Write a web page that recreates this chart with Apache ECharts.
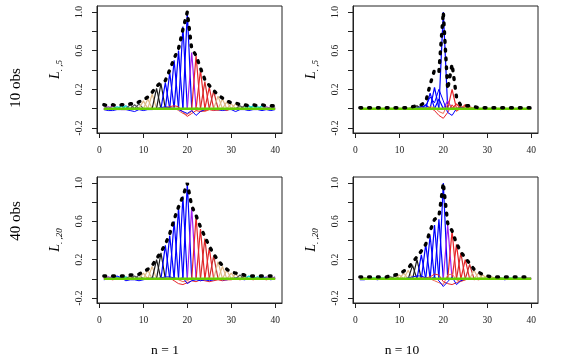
<!DOCTYPE html>
<html>
<head>
<meta charset="utf-8">
<script src="https://cdn.jsdelivr.net/npm/echarts@6/dist/echarts.min.js"></script>
<style>
html, body { margin: 0; padding: 0; background: #fff; }
#chart { width: 572px; height: 364px; }
</style>
</head>
<body>
<div id="chart"></div>
<script>
// tick values
var xTicks = [0, 10, 20, 30, 40];
var yTicks = [-0.2, 0, 0.2, 0.4, 0.6, 0.8, 1.0];
var yTickLabels = [-0.2, 0.2, 0.6, 1.0];
var rowNames = ["10 obs", "40 obs"];
var colNames = ["n = 1", "n = 10"];
var ySubs = ["5", "5", "20", "20"];

// panel 1 : 10 obs, n = 1
var p1Env = [0.04,0.03,0.04,0.03,0.04,0.04,0.05,0.05,0.07,0.09,
  0.12,0.17,0.23,0.27,0.29,0.40,0.52,0.62,0.82,1.00,
  0.62,0.55,0.42,0.30,0.24,0.19,0.14,0.11,0.08,0.06,
  0.06,0.04,0.04,0.03,0.04,0.03,0.04,0.03,0.03,0.03];
var p1Peak = [0.03,0.02,0.03,0.02,0.03,0.03,0.04,0.04,0.05,0.08,
  0.10,0.15,0.21,0.26,0.27,0.37,0.50,0.60,0.85,1.00,
  0.58,0.55,0.40,0.28,0.22,0.18,0.13,0.10,0.07,0.05,
  0.05,0.03,0.03,0.03,0.03,0.02,0.03,0.02,0.02,0.02];
var p1Blue = [-0.01,-0.02,-0.02,-0.01,-0.01,-0.01,-0.02,-0.03,-0.01,-0.02,
  -0.01,-0.01,0.00,0.01,0.02,0.01,0.00,-0.01,-0.03,-0.05,
  -0.02,-0.07,-0.03,-0.01,0.00,-0.01,-0.01,-0.02,-0.01,-0.01,
  -0.03,-0.01,-0.01,-0.02,-0.01,-0.01,-0.02,-0.01,-0.02,-0.01];
var p1Red = [0.00,0.00,0.00,-0.01,0.00,0.00,-0.01,0.00,0.00,-0.01,
  0.00,0.00,0.00,0.00,0.01,0.02,0.03,0.02,-0.04,-0.08,
  -0.05,-0.02,-0.03,-0.02,-0.01,-0.02,-0.01,-0.01,-0.02,0.00,
  -0.01,0.00,0.00,-0.01,0.00,0.00,0.00,-0.01,0.00,0.00];
var p1Rose = [-0.01,-0.01,0.00,0.00,-0.01,-0.01,0.00,0.00,-0.01,0.00,
  0.00,-0.01,0.00,0.01,0.00,0.00,0.01,-0.02,-0.05,-0.06,
  -0.03,0.02,-0.02,-0.03,-0.01,-0.01,-0.02,-0.01,0.00,-0.01,
  0.00,-0.01,0.00,0.00,-0.01,0.00,-0.01,0.00,-0.01,0.00];

// panel 2 : 10 obs, n = 10
var p2Env = [0.01,0.01,0.01,0.01,0.01,0.01,0.01,0.01,0.01,0.01,
  0.01,0.01,0.02,0.03,0.04,0.07,0.25,0.40,0.38,1.00,
  0.20,0.46,0.12,0.03,0.03,0.03,0.02,0.01,0.01,0.01,
  0.01,0.01,0.01,0.01,0.01,0.01,0.01,0.01,0.01,0.01];
var p2Peak = [0,0,0,0,0,0,0,0,0,0,
  0,0,0.01,0.03,0.02,0.04,0.16,0.22,0.10,1.00,
  0.08,0.20,0.05,0.02,0.04,0.02,0.01,0,0,0,
  0,0,0,0,0,0,0,0,0,0];
var p2Blue = [0,0,0,0,0,0,-0.01,0,0,0,
  0,0,0,0.01,0.02,0.03,0.12,0.06,0.20,0.08,
  -0.04,-0.07,0.00,0.01,0,0,0,0,0,0,
  0,0,-0.01,0,0,0,0,0,0,0];
var p2Red = [0,0,0,0,0,0,0,0,0,0,
  0,0,0,0,0,0,0.01,-0.02,-0.07,-0.10,
  -0.04,0.04,-0.02,0.00,0.02,0,0,0,0,0,
  0,0,0,0,0,0,0,0,0,0];
var p2Rose = [0,0,0,0,0,0,0,0,0,0,
  0,0,0,0,0.01,0.00,0.02,0.01,-0.03,-0.05,
  0.05,0.02,-0.03,0.01,0.03,0.01,0,0,0,0,
  0,0,0,0,0,0,0,0,0,0];

// panel 3 : 40 obs, n = 1
var p3Env = [0.03,0.03,0.03,0.03,0.03,0.03,0.04,0.04,0.05,0.07,
  0.10,0.14,0.21,0.28,0.36,0.47,0.62,0.75,0.86,1.00,
  0.76,0.66,0.54,0.44,0.34,0.26,0.19,0.14,0.10,0.07,
  0.06,0.05,0.04,0.03,0.03,0.03,0.03,0.03,0.03,0.03];
var p3Peak = [0.02,0.02,0.03,0.02,0.02,0.02,0.03,0.03,0.04,0.06,
  0.09,0.13,0.20,0.27,0.35,0.45,0.60,0.74,0.86,1.00,
  0.74,0.65,0.52,0.42,0.32,0.24,0.18,0.13,0.09,0.06,
  0.05,0.04,0.03,0.03,0.02,0.02,0.03,0.02,0.02,0.02];
var p3Blue = [-0.01,0.00,0.01,0.03,0.01,-0.02,-0.01,-0.01,-0.02,-0.01,
  0.00,0.01,0.00,0.01,0.02,0.02,0.01,0.00,0.01,-0.05,
  -0.02,-0.01,-0.02,-0.01,-0.02,-0.01,0.00,-0.01,-0.01,0.00,
  0.01,0.00,-0.01,0.00,0.01,0.00,0.02,0.01,-0.01,0.00];
var p3Red = [0.00,0.00,-0.01,0.00,0.00,-0.01,0.00,0.00,-0.01,0.00,
  0.00,0.00,0.00,0.01,0.00,0.01,-0.02,-0.05,-0.06,-0.04,
  -0.02,-0.03,-0.01,-0.02,-0.03,-0.02,-0.01,-0.02,-0.01,-0.01,
  0.00,-0.01,0.00,0.00,-0.01,0.00,0.00,-0.01,0.00,0.00];
var p3Rose = [0.01,0.00,0.00,0.01,0.00,0.00,0.01,0.00,0.00,0.00,
  0.01,0.00,0.00,0.00,0.01,0.00,0.00,-0.01,-0.03,-0.02,
  0.01,0.00,-0.02,0.00,0.01,-0.01,0.00,0.00,-0.01,0.00,
  0.00,0.00,0.01,0.00,0.00,0.01,0.00,0.00,0.00,0.00];

// panel 4 : 40 obs, n = 10
var p4Env = [0.02,0.02,0.02,0.02,0.02,0.02,0.02,0.03,0.04,0.05,
  0.08,0.11,0.17,0.23,0.29,0.36,0.50,0.62,0.65,1.00,
  0.58,0.50,0.37,0.28,0.22,0.16,0.10,0.07,0.045,0.03,
  0.02,0.02,0.02,0.02,0.02,0.02,0.02,0.02,0.02,0.02];
var p4Peak = [0.01,0.01,0.01,0.01,0.01,0.01,0.01,0.02,0.03,0.04,
  0.06,0.09,0.14,0.20,0.25,0.36,0.45,0.56,0.62,1.00,
  0.56,0.50,0.36,0.27,0.20,0.15,0.09,0.06,0.04,0.03,
  0.02,0.01,0.01,0.01,0.01,0.01,0.01,0.01,0.01,0.01];
var p4Blue = [-0.01,-0.01,0,0,-0.01,0,0,0,0,0,
  0,0.01,0.02,0.03,0.03,0.01,0.00,0.02,-0.02,-0.08,
  -0.03,0.02,-0.06,-0.02,0,0,0,0,0,0,
  0,0,0,-0.01,0,0,0,0,0,0];
var p4Red = [0,0,0,0,0,0,0,0,0,0,
  0,0,0,0,0.01,0.01,0.02,0.05,0.04,-0.03,
  -0.05,-0.06,-0.04,-0.02,-0.01,0,0,-0.01,0,0,
  0,0,0,0,0,0,0,0,0,0];
var p4Rose = [0,0,0,0,0,0,0,0,0,0,
  0,0,0,0,0,0.01,0.00,-0.02,-0.04,-0.06,
  0.04,0.05,-0.01,-0.03,-0.01,0.01,-0.01,0,0,0,
  0,0,0,0,0,0,0,0,0,0];

// green line lying on zero in every panel
var baseLine = [0,0,0,0,0,0,0,0,0,0,0,0,0,0,0,0,0,0,0,0,
  0,0,0,0,0,0,0,0,0,0,0,0,0,0,0,0,0,0,0,0];

var spikeColors = [
  "#9a32cd","#9a32cd","#9a32cd",
  "#00cdcd","#00cdcd","#00cdcd",
  "#555555","#555555","#555555",
  "#deb887","#deb887","#deb887",
  "#1a1a1a","#1a1a1a",
  "#0000ff","#0000ff","#0000ff","#0000ff","#0000ff","#0000ff",
  "#a020f0",
  "#e8262a","#e8262a","#d42a2a","#e8262a","#c83030",
  "#deb887","#deb887","#deb887","#deb887","#deb887",
  "#555555","#555555",
  "#00cdcd","#00cdcd","#00cdcd","#00cdcd",
  "#9a32cd","#9a32cd","#9a32cd"
];

var panels = [
  { env: p1Env, peak: p1Peak, blue: p1Blue, red: p1Red, rose: p1Rose },
  { env: p2Env, peak: p2Peak, blue: p2Blue, red: p2Red, rose: p2Rose },
  { env: p3Env, peak: p3Peak, blue: p3Blue, red: p3Red, rose: p3Rose },
  { env: p4Env, peak: p4Peak, blue: p4Blue, red: p4Red, rose: p4Rose }
];
var boxes = [
  { left: 97, top: 6, width: 185, height: 127 },
  { left: 353, top: 6, width: 185, height: 127 },
  { left: 97, top: 177, width: 185, height: 126 },
  { left: 353, top: 177, width: 185, height: 126 }
];

var serif = "Liberation Serif";
var myChart = echarts.init(document.getElementById("chart"));

function toXY(arr) {
  var out = [];
  for (var k = 0; k < arr.length; k++) out.push([k + 1, arr[k]]);
  return out;
}

var grids = [], xAxes = [], yAxes = [], series = [];
for (var i = 0; i < 4; i++) {
  var b = boxes[i];
  grids.push({ left: b.left, top: b.top, width: b.width, height: b.height,
    show: true, borderColor: "#222", borderWidth: 1, containLabel: false });
  xAxes.push({
    gridIndex: i, type: "value", min: -0.56, max: 41.56,
    splitLine: { show: false },
    axisLine: { show: true, onZero: false, lineStyle: { color: "#222", width: 1 } },
    axisTick: { show: true, length: 5, customValues: xTicks, lineStyle: { color: "#222" } },
    axisLabel: { customValues: xTicks, fontSize: 9.5, fontFamily: serif, color: "#222", margin: 12 }
  });
  yAxes.push({
    gridIndex: i, type: "value", min: -0.252, max: 1.062,
    splitLine: { show: false },
    axisLine: { show: true, onZero: false, lineStyle: { color: "#222", width: 1 } },
    axisTick: { show: true, length: 5, customValues: yTicks, lineStyle: { color: "#222" } },
    axisLabel: { customValues: yTickLabels, rotate: 90, fontSize: 9.5, fontFamily: serif,
      color: "#222", margin: 13,
      formatter: function (v) { return v.toFixed(1); } },
    name: "{l|L}{s|. ," + ySubs[i] + "}",
    nameLocation: "middle", nameGap: 33, nameRotate: 90,
    nameTextStyle: {
      rich: {
        l: { fontSize: 14, fontStyle: "italic", fontFamily: serif, color: "#000", lineHeight: 18 },
        s: { fontSize: 9, fontStyle: "italic", fontFamily: serif, color: "#000",
             verticalAlign: "bottom", lineHeight: 18 }
      }
    }
  });

  var p = panels[i];
  // one spike per position, rising from zero at its neighbours
  for (var j = 1; j <= 40; j++) {
    var pts = [];
    if (j > 1) pts.push([j - 1, 0]);
    pts.push([j, p.peak[j - 1]]);
    if (j < 40) pts.push([j + 1, 0]);
    series.push({
      type: "line", xAxisIndex: i, yAxisIndex: i, data: pts,
      symbol: "none", silent: true, z: 2,
      lineStyle: { color: spikeColors[j - 1], width: 1.2 }
    });
  }
  var wig = [[p.rose, "#ee6a50"], [p.red, "#e8262a"], [p.blue, "#0000ff"]];
  for (var w = 0; w < wig.length; w++) {
    series.push({
      type: "line", xAxisIndex: i, yAxisIndex: i, data: toXY(wig[w][0]),
      symbol: "none", silent: true, z: 3,
      lineStyle: { color: wig[w][1], width: 1 }
    });
  }
  series.push({
    type: "line", xAxisIndex: i, yAxisIndex: i, data: toXY(baseLine),
    symbol: "none", silent: true, z: 4,
    lineStyle: { color: "#66cd00", width: 2.5 }
  });
  series.push({
    type: "line", xAxisIndex: i, yAxisIndex: i, data: toXY(p.env),
    symbol: "none", silent: true, z: 5,
    lineStyle: { color: "#000", width: 3.4, type: [1.8, 7], cap: "round" }
  });
}

myChart.setOption({
  animation: false,
  backgroundColor: "#fff",
  grid: grids,
  xAxis: xAxes,
  yAxis: yAxes,
  series: series,
  graphic: [
    { type: "text", x: 16, y: 88, rotation: Math.PI / 2,
      style: { text: rowNames[0], fontSize: 15, fontFamily: serif, fill: "#000",
        textAlign: "center", textVerticalAlign: "middle" } },
    { type: "text", x: 16, y: 221, rotation: Math.PI / 2,
      style: { text: rowNames[1], fontSize: 15, fontFamily: serif, fill: "#000",
        textAlign: "center", textVerticalAlign: "middle" } },
    { type: "text", x: 165, y: 350,
      style: { text: colNames[0], fontSize: 13.5, fontFamily: serif, fill: "#000",
        textAlign: "center", textVerticalAlign: "middle" } },
    { type: "text", x: 402, y: 350,
      style: { text: colNames[1], fontSize: 13.5, fontFamily: serif, fill: "#000",
        textAlign: "center", textVerticalAlign: "middle" } }
  ]
});
</script>
</body>
</html>
